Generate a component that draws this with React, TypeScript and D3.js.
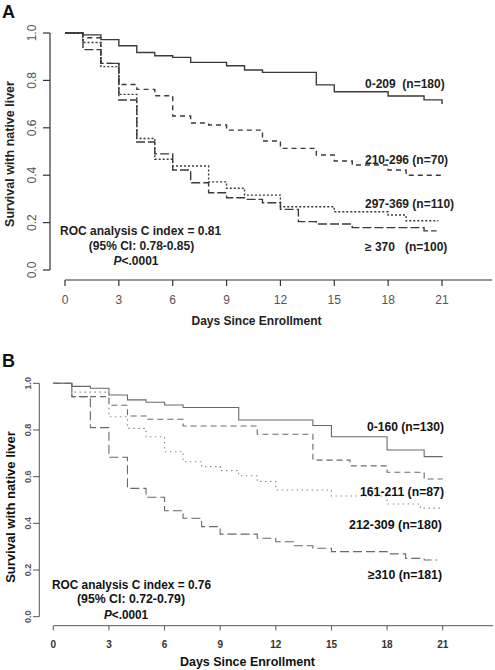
import React from "react";
import * as d3 from "d3";

// ---------- Panel A data ----------
const groupsA = ["0-209  (n=180)", "210-296 (n=70)", "297-369 (n=110)", "≥ 370   (n=100)"];
const timesA1 = [0, 1, 2, 3, 4, 5, 6, 7, 9, 10, 11, 14, 15, 18, 20, 21];
const survA1 = [1, 0.992, 0.972, 0.946, 0.918, 0.904, 0.897, 0.876, 0.862, 0.844, 0.834, 0.781, 0.752, 0.734, 0.718, 0.7];
const timesA2 = [0, 1, 2, 3, 4, 5, 6, 7, 8, 9, 11, 12, 14, 15, 16, 18, 19, 21];
const survA2 = [1, 0.98, 0.872, 0.783, 0.762, 0.735, 0.65, 0.62, 0.612, 0.59, 0.544, 0.513, 0.485, 0.46, 0.443, 0.422, 0.4, 0.4];
const timesA3 = [0, 1, 2, 3, 4, 5, 6, 8, 9, 10, 12, 15, 18, 19, 20.8];
const survA3 = [1, 0.96, 0.858, 0.741, 0.555, 0.467, 0.439, 0.372, 0.345, 0.316, 0.267, 0.246, 0.232, 0.208, 0.208];
const timesA4 = [0, 1, 2, 3, 4, 5, 6, 7, 8, 9, 10, 11, 12, 13, 14, 16, 20, 20.7];
const survA4 = [1, 0.93, 0.872, 0.717, 0.54, 0.49, 0.422, 0.368, 0.326, 0.305, 0.298, 0.284, 0.256, 0.204, 0.194, 0.179, 0.165, 0.165];

// ---------- Panel B data ----------
const groupsB = ["0-160 (n=130)", "161-211 (n=87)", "212-309 (n=180)", "≥310 (n=181)"];
const timesB1 = [0, 1, 2, 3, 4, 5, 6, 7, 10, 14, 15, 18, 20, 21];
const survB1 = [1, 0.987, 0.979, 0.95, 0.929, 0.919, 0.907, 0.896, 0.843, 0.819, 0.771, 0.714, 0.686, 0.686];
const timesB2 = [0, 1, 3, 4, 5, 7, 11, 14, 16, 18, 20, 21];
const survB2 = [1, 0.943, 0.906, 0.86, 0.846, 0.817, 0.782, 0.671, 0.646, 0.619, 0.59, 0.59];
const timesB3 = [0, 1, 3, 4, 5, 6, 7, 8, 9, 10, 11, 12, 15, 18, 19.8, 21];
const survB3 = [1, 0.962, 0.857, 0.807, 0.771, 0.707, 0.664, 0.643, 0.626, 0.604, 0.579, 0.543, 0.517, 0.483, 0.465, 0.465];
const timesB4 = [0, 1, 2, 3, 4, 5, 6, 7, 8, 9, 11, 12, 13, 14, 15, 18, 19, 20, 20.7];
const survB4 = [1, 0.943, 0.81, 0.683, 0.55, 0.512, 0.454, 0.422, 0.386, 0.354, 0.336, 0.321, 0.304, 0.293, 0.279, 0.269, 0.25, 0.243, 0.243];

const xTicks = [0, 3, 6, 9, 12, 15, 18, 21];
const yTicks = [0, 0.2, 0.4, 0.6, 0.8, 1.0];

const rocA = ["ROC analysis C index = 0.81", "(95% CI: 0.78-0.85)", "<.0001"];
const rocB = ["ROC analysis C index = 0.76", "(95% CI: 0.72-0.79)", "<.0001"];

const FONT = "'Liberation Sans', Arial, sans-serif";

function zip(t: number[], s: number[]): [number, number][] {
  return t.map((v, i) => [v, s[i]]);
}

export default function App() {
  // Panel A scales
  const xA = d3.scaleLinear().domain([0, 21]).range([65, 442]);
  const yA = d3.scaleLinear().domain([0, 1]).range([270, 33]);
  // Panel B scales
  const xB = d3.scaleLinear().domain([0, 21]).range([53.3, 442.7]);
  const yB = d3.scaleLinear().domain([0, 1]).range([616.7, 383.3]);

  const lineA = d3
    .line<[number, number]>()
    .x((d) => xA(d[0]))
    .y((d) => yA(d[1]))
    .curve(d3.curveStepAfter);
  const lineB = d3
    .line<[number, number]>()
    .x((d) => xB(d[0]))
    .y((d) => yB(d[1]))
    .curve(d3.curveStepAfter);

  const seriesA = [
    { data: zip(timesA1, survA1), dash: "none" },
    { data: zip(timesA2, survA2), dash: "5,4" },
    { data: zip(timesA3, survA3), dash: "2,2" },
    { data: zip(timesA4, survA4), dash: "9,3" },
  ];
  const seriesB = [
    { data: zip(timesB1, survB1), dash: "none", color: "#6a6a6a" },
    { data: zip(timesB2, survB2), dash: "6,4", color: "#6a6a6a" },
    { data: zip(timesB3, survB3), dash: "1.5,3.5", color: "#8a8a8a" },
    { data: zip(timesB4, survB4), dash: "9,4", color: "#6a6a6a" },
  ];

  const labelPosA = [
    { x: 365, y: 88 },
    { x: 365, y: 164 },
    { x: 365, y: 208 },
    { x: 365, y: 251 },
  ];
  const labelPosB = [
    { x: 367, y: 431, w: 77 },
    { x: 360, y: 496, w: 84 },
    { x: 349, y: 529, w: 93 },
    { x: 368, y: 579, w: 74 },
  ];

  const fmt = d3.format(".1f");

  return (
    <svg
      width={495}
      height={670}
      style={{ position: "absolute", left: 0, top: 0, background: "#fff" }}
      fontFamily={FONT}
    >
      <rect x={0} y={0} width={495} height={670} fill="#fff" />

      {/* ================= Panel A ================= */}
      <text x={2} y={18} fontSize={18} fontWeight="bold" fill="#111">A</text>

      {/* y axis */}
      <line x1={50} x2={50} y1={yA(1)} y2={yA(0)} stroke="#333" strokeWidth={1.2} />
      {yTicks.map((t) => (
        <g key={"ya" + t}>
          <line x1={43} x2={50} y1={yA(t)} y2={yA(t)} stroke="#333" strokeWidth={1.2} />
          <text
            transform={`translate(32,${yA(t)}) rotate(-90)`}
            textAnchor="middle"
            dy="0.35em"
            fontSize={12}
            fill="#555"
          >
            {fmt(t)}
          </text>
        </g>
      ))}
      <text
        transform={`translate(10,154) rotate(-90)`}
        textAnchor="middle"
        dy="0.35em"
        fontSize={12.5}
        fontWeight="bold"
        fill="#222"
      >
        Survival with native liver
      </text>

      {/* x axis */}
      <line x1={xA(0)} x2={492} y1={280} y2={280} stroke="#333" strokeWidth={1.2} />
      {xTicks.map((t) => (
        <g key={"xa" + t}>
          <line x1={xA(t)} x2={xA(t)} y1={280} y2={286} stroke="#333" strokeWidth={1.2} />
          <text x={xA(t)} y={304} textAnchor="middle" fontSize={12} fill="#555">
            {t}
          </text>
        </g>
      ))}
      <text x={256.5} y={325} textAnchor="middle" fontSize={12} fontWeight="bold" fill="#222">
        Days Since Enrollment
      </text>

      {/* curves */}
      {seriesA.map((s, i) => (
        <path
          key={"sa" + i}
          d={lineA(s.data) || ""}
          fill="none"
          stroke="#3a3a3a"
          strokeWidth={1.4}
          strokeDasharray={s.dash}
        />
      ))}
      {groupsA.map((g, i) => (
        <text
          key={"ga" + i}
          x={labelPosA[i].x}
          y={labelPosA[i].y}
          fontSize={12}
          fontWeight="bold"
          fill="#222"
          style={{ whiteSpace: "pre" }}
        >
          {g}
        </text>
      ))}
      <text x={60} y={235} fontSize={12} fontWeight="bold" fill="#222">{rocA[0]}</text>
      <text x={141.5} y={250} textAnchor="middle" fontSize={12} fontWeight="bold" fill="#222">{rocA[1]}</text>
      <text x={136} y={265} textAnchor="middle" fontSize={12} fontWeight="bold" fill="#222">
        <tspan fontStyle="italic">P</tspan>
        {rocA[2]}
      </text>

      {/* ================= Panel B ================= */}
      <text x={2} y={367} fontSize={18} fontWeight="bold" fill="#111">B</text>

      <line x1={39.3} x2={39.3} y1={yB(1)} y2={yB(0)} stroke="#555" strokeWidth={1} />
      {yTicks.map((t) => (
        <g key={"yb" + t}>
          <line x1={33} x2={39.3} y1={yB(t)} y2={yB(t)} stroke="#555" strokeWidth={1} />
          <text
            transform={`translate(28,${yB(t)}) rotate(-90)`}
            textAnchor="middle"
            dy="0.35em"
            fontSize={9}
            fontWeight="bold"
            fill="#555"
          >
            {fmt(t)}
          </text>
        </g>
      ))}
      <text
        transform={`translate(10,507) rotate(-90)`}
        textAnchor="middle"
        dy="0.35em"
        fontSize={13}
        fontWeight="bold"
        fill="#111"
      >
        Survival with native liver
      </text>

      <line x1={xB(0)} x2={493} y1={625.7} y2={625.7} stroke="#555" strokeWidth={1} />
      {xTicks.map((t) => (
        <g key={"xb" + t}>
          <line x1={xB(t)} x2={xB(t)} y1={625.7} y2={630.5} stroke="#555" strokeWidth={1} />
          <text x={xB(t)} y={648} textAnchor="middle" fontSize={10} fontWeight="bold" fill="#333">
            {t}
          </text>
        </g>
      ))}
      <text
        x={180}
        y={666}
        fontSize={13.5}
        fontWeight="bold"
        fill="#111"
        textLength={135}
        lengthAdjust="spacingAndGlyphs"
      >
        Days Since Enrollment
      </text>

      {seriesB.map((s, i) => (
        <path
          key={"sb" + i}
          d={lineB(s.data) || ""}
          fill="none"
          stroke={s.color}
          strokeWidth={1.1}
          strokeDasharray={s.dash}
        />
      ))}
      {groupsB.map((g, i) => (
        <text
          key={"gb" + i}
          x={labelPosB[i].x}
          y={labelPosB[i].y}
          fontSize={12.5}
          fontWeight="bold"
          fill="#111"
          textLength={labelPosB[i].w}
          lengthAdjust="spacingAndGlyphs"
        >
          {g}
        </text>
      ))}
      <text x={52} y={589} fontSize={13} fontWeight="bold" fill="#111" textLength={159} lengthAdjust="spacingAndGlyphs">
        {rocB[0]}
      </text>
      <text x={77} y={603} fontSize={13} fontWeight="bold" fill="#111" textLength={108} lengthAdjust="spacingAndGlyphs">
        {rocB[1]}
      </text>
      <text x={104} y={619} fontSize={13} fontWeight="bold" fill="#111" textLength={44} lengthAdjust="spacingAndGlyphs">
        <tspan fontStyle="italic">P</tspan>
        {rocB[2]}
      </text>
    </svg>
  );
}
